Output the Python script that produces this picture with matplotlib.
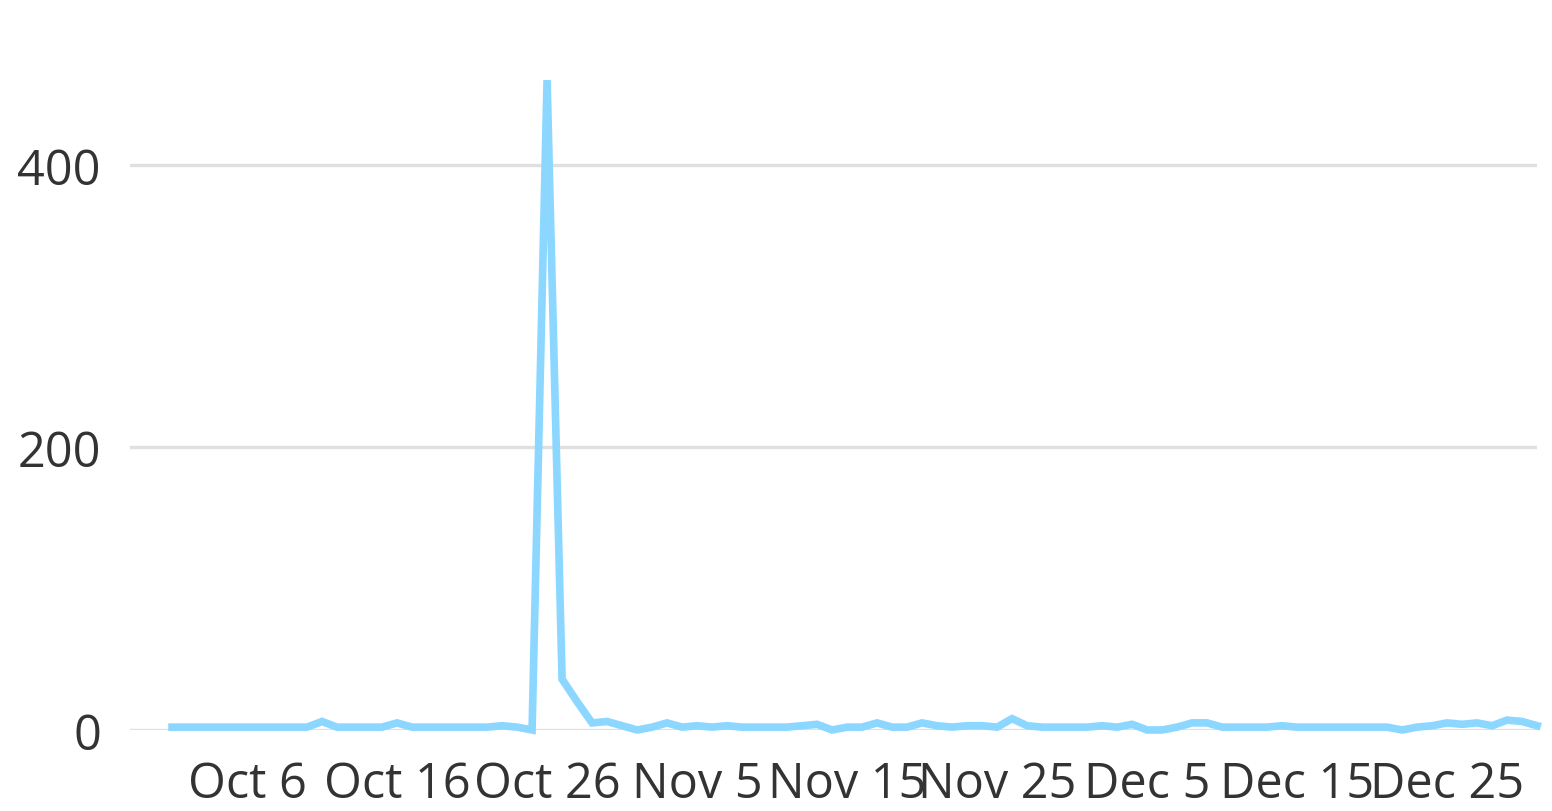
import numpy as np
import pandas as pd
import matplotlib
matplotlib.use("Agg")
import matplotlib.pyplot as plt
import matplotlib.dates as mdates

# daily values, Oct 1 .. Dec 31
oct_vals = [2, 2, 2, 2, 2, 2, 2, 2, 2, 2,
            6, 2, 2, 2, 2, 5, 2, 2, 2, 2,
            2, 2, 3, 2, 0, 460, 36, 20, 5, 6, 3]
nov_vals = [0, 2, 5, 2, 3, 2, 3, 2, 2, 2,
            2, 3, 4, 0, 2, 2, 5, 2, 2, 5,
            3, 2, 3, 3, 2, 8, 3, 2, 2, 2]
dec_vals = [2, 3, 2, 4, 0, 0, 2, 5, 5, 2,
            2, 2, 2, 3, 2, 2, 2, 2, 2, 2,
            2, 0, 2, 3, 5, 4, 5, 3, 7, 6, 3]
values = oct_vals + nov_vals + dec_vals
dates = pd.date_range("2023-10-01", periods=len(values), freq="D")

tick_dates = pd.date_range("2023-10-06", periods=9, freq="10D")
tick_labels = [f"{d:%b} {d.day}" for d in tick_dates]
y_ticks = [0, 200, 400]


def main():
    plt.rcParams["font.family"] = ["Open Sans", "DejaVu Sans"]
    fig = plt.figure(figsize=(15.52, 8.12), dpi=100)
    ax = fig.add_axes([0.0838, 0.0998, 0.9066, 0.809])

    for y in y_ticks:
        ax.axhline(y, color="#e0e0e0", lw=2.4, zorder=1)

    ax.plot(dates, values, color="#8cd7ff", lw=5.5, zorder=3,
            solid_joinstyle="miter", clip_on=False)

    x0 = mdates.date2num(dates[0]) - 2.8
    x1 = mdates.date2num(dates[-1])
    ax.set_xlim(x0, x1)
    ax.set_ylim(0, 465)

    ax.set_xticks(tick_dates)
    ax.set_xticklabels(tick_labels)
    ax.set_yticks(y_ticks)
    ax.tick_params(axis="both", length=0, labelsize=35, colors="#333333")
    ax.tick_params(axis="x", pad=21)
    ax.tick_params(axis="y", pad=21)
    for s in ax.spines.values():
        s.set_visible(False)

    fig.savefig("out.png", dpi=100, facecolor="white")


if __name__ == "__main__":
    main()
